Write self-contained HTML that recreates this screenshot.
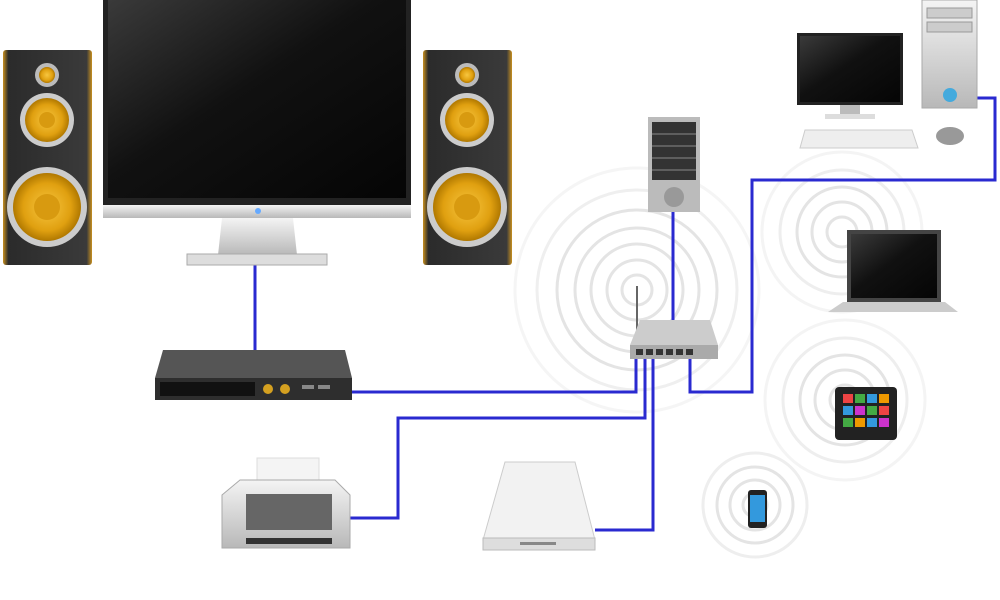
<!DOCTYPE html>
<html><head><meta charset="utf-8"><style>html,body{margin:0;padding:0;background:#fff}svg{display:block}</style></head>
<body>
<svg width="1000" height="600" viewBox="0 0 1000 600" xmlns="http://www.w3.org/2000/svg">
<defs>
<linearGradient id="scr" x1="0" y1="0" x2="1" y2="1"><stop offset="0" stop-color="#3a3a3a"/><stop offset="0.45" stop-color="#111"/><stop offset="1" stop-color="#050505"/></linearGradient>
<linearGradient id="silver" x1="0" y1="0" x2="0" y2="1"><stop offset="0" stop-color="#f4f4f4"/><stop offset="1" stop-color="#b8b8b8"/></linearGradient>
<radialGradient id="cone"><stop offset="0" stop-color="#f7c640"/><stop offset="0.7" stop-color="#e0a010"/><stop offset="1" stop-color="#b07800"/></radialGradient>
<linearGradient id="spk" x1="0" y1="0" x2="1" y2="0"><stop offset="0" stop-color="#c89020"/><stop offset="0.06" stop-color="#2b2b2b"/><stop offset="0.94" stop-color="#3a3a3a"/><stop offset="1" stop-color="#c89020"/></linearGradient>
</defs>
<!-- wifi rings -->
<g fill="none" stroke="#e4e4e4" stroke-width="3">
<circle cx="637" cy="290" r="15"/><circle cx="637" cy="290" r="30"/><circle cx="637" cy="290" r="46"/><circle cx="637" cy="290" r="62"/><circle cx="637" cy="290" r="80"/><circle cx="637" cy="290" r="100" stroke="#efefef"/><circle cx="637" cy="290" r="122" stroke="#f5f5f5"/>
<circle cx="842" cy="232" r="15"/><circle cx="842" cy="232" r="30"/><circle cx="842" cy="232" r="45"/><circle cx="842" cy="232" r="62" stroke="#eee"/><circle cx="842" cy="232" r="80" stroke="#f4f4f4"/>
<circle cx="845" cy="400" r="15"/><circle cx="845" cy="400" r="30"/><circle cx="845" cy="400" r="45"/><circle cx="845" cy="400" r="62" stroke="#eee"/><circle cx="845" cy="400" r="80" stroke="#f4f4f4"/>
<circle cx="755" cy="505" r="12"/><circle cx="755" cy="505" r="25"/><circle cx="755" cy="505" r="38"/><circle cx="755" cy="505" r="52" stroke="#eee"/>
</g>
<!-- cables -->
<g fill="none" stroke="#2a2ad0" stroke-width="3">
<path d="M255 265V350"/>
<path d="M352 392H636V358"/>
<path d="M673 212V322"/>
<path d="M690 358V392H752V180H995V98H965"/>
<path d="M350 518H398V418H645V358"/>
<path d="M595 530H653V358"/>
</g>
<!-- speakers -->
<g id="sp">
<rect x="3" y="50" width="89" height="215" rx="3" fill="url(#spk)"/>
<circle cx="47" cy="75" r="12" fill="#bbb"/><circle cx="47" cy="75" r="8" fill="url(#cone)"/>
<circle cx="47" cy="120" r="27" fill="#ccc"/><circle cx="47" cy="120" r="22" fill="url(#cone)"/><circle cx="47" cy="120" r="8" fill="#d89a10"/>
<circle cx="47" cy="207" r="40" fill="#ccc"/><circle cx="47" cy="207" r="34" fill="url(#cone)"/><circle cx="47" cy="207" r="13" fill="#d89a10"/>
</g>
<use href="#sp" x="420"/>
<!-- TV -->
<rect x="103" y="0" width="308" height="207" fill="#222"/>
<rect x="108" y="0" width="298" height="198" fill="url(#scr)"/>
<rect x="103" y="205" width="308" height="13" fill="url(#silver)"/>
<circle cx="258" cy="211" r="3" fill="#6af"/>
<path d="M222 218H293L297 255H218Z" fill="url(#silver)"/>
<rect x="187" y="254" width="140" height="11" fill="#ddd" stroke="#aaa"/>
<!-- receiver -->
<path d="M163 350H345L352 378H155Z" fill="#555"/>
<rect x="155" y="378" width="197" height="22" fill="#2e2e2e"/>
<rect x="160" y="382" width="95" height="14" fill="#111"/>
<circle cx="268" cy="389" r="5" fill="#d4a020"/><circle cx="285" cy="389" r="5" fill="#d4a020"/>
<rect x="302" y="385" width="12" height="4" fill="#888"/><rect x="318" y="385" width="12" height="4" fill="#888"/>
<!-- server -->
<rect x="648" y="117" width="52" height="95" fill="#bbb"/>
<rect x="652" y="122" width="44" height="58" fill="#333"/>
<g stroke="#888"><line x1="652" y1="134" x2="696" y2="134"/><line x1="652" y1="146" x2="696" y2="146"/><line x1="652" y1="158" x2="696" y2="158"/><line x1="652" y1="170" x2="696" y2="170"/></g>
<circle cx="674" cy="197" r="10" fill="#999"/>
<!-- router -->
<line x1="637" y1="286" x2="637" y2="330" stroke="#666" stroke-width="2"/>
<path d="M640 320H710L718 345H630Z" fill="#ccc"/>
<rect x="630" y="345" width="88" height="14" fill="#aaa"/>
<g fill="#333"><rect x="636" y="349" width="7" height="6"/><rect x="646" y="349" width="7" height="6"/><rect x="656" y="349" width="7" height="6"/><rect x="666" y="349" width="7" height="6"/><rect x="676" y="349" width="7" height="6"/><rect x="686" y="349" width="7" height="6"/></g>
<!-- desktop -->
<rect x="797" y="33" width="106" height="72" fill="#222"/><rect x="800" y="36" width="100" height="66" fill="url(#scr)"/>
<rect x="840" y="105" width="20" height="10" fill="#bbb"/><rect x="825" y="114" width="50" height="5" fill="#ddd"/>
<path d="M805 130H912L918 148H800Z" fill="#eee" stroke="#ccc"/>
<rect x="922" y="0" width="55" height="108" fill="url(#silver)" stroke="#aaa"/>
<rect x="927" y="8" width="45" height="10" fill="#ccc" stroke="#999"/><rect x="927" y="22" width="45" height="10" fill="#ccc" stroke="#999"/>
<circle cx="950" cy="95" r="7" fill="#4ad"/>
<ellipse cx="950" cy="136" rx="14" ry="9" fill="#999"/>
<!-- laptop -->
<rect x="847" y="230" width="94" height="72" fill="#444"/><rect x="851" y="234" width="86" height="64" fill="url(#scr)"/>
<path d="M843 302H945L958 312H828Z" fill="#ccc"/>
<!-- tablet -->
<rect x="835" y="387" width="62" height="53" rx="4" fill="#222"/>
<g><rect x="843" y="394" width="10" height="9" fill="#e44"/><rect x="855" y="394" width="10" height="9" fill="#4a4"/><rect x="867" y="394" width="10" height="9" fill="#39d"/><rect x="879" y="394" width="10" height="9" fill="#e90"/><rect x="843" y="406" width="10" height="9" fill="#39d"/><rect x="855" y="406" width="10" height="9" fill="#c3c"/><rect x="867" y="406" width="10" height="9" fill="#4a4"/><rect x="879" y="406" width="10" height="9" fill="#e44"/><rect x="843" y="418" width="10" height="9" fill="#4a4"/><rect x="855" y="418" width="10" height="9" fill="#e90"/><rect x="867" y="418" width="10" height="9" fill="#39d"/><rect x="879" y="418" width="10" height="9" fill="#c3c"/></g>
<!-- phone -->
<rect x="748" y="490" width="19" height="38" rx="3" fill="#222"/>
<rect x="750" y="495" width="15" height="27" fill="#39d"/>
<!-- printer -->
<rect x="257" y="458" width="62" height="25" fill="#f4f4f4" stroke="#ddd"/>
<path d="M240 480H335L350 495V548H222V495Z" fill="url(#silver)" stroke="#aaa"/>
<rect x="246" y="494" width="86" height="36" fill="#666"/>
<rect x="246" y="538" width="86" height="6" fill="#333"/>
<!-- HDD -->
<path d="M505 462H575L595 540H483Z" fill="#f2f2f2" stroke="#ccc"/>
<rect x="483" y="538" width="112" height="12" fill="#ddd" stroke="#bbb"/>
<rect x="520" y="542" width="36" height="3" fill="#888"/>
</svg>
</body></html>
